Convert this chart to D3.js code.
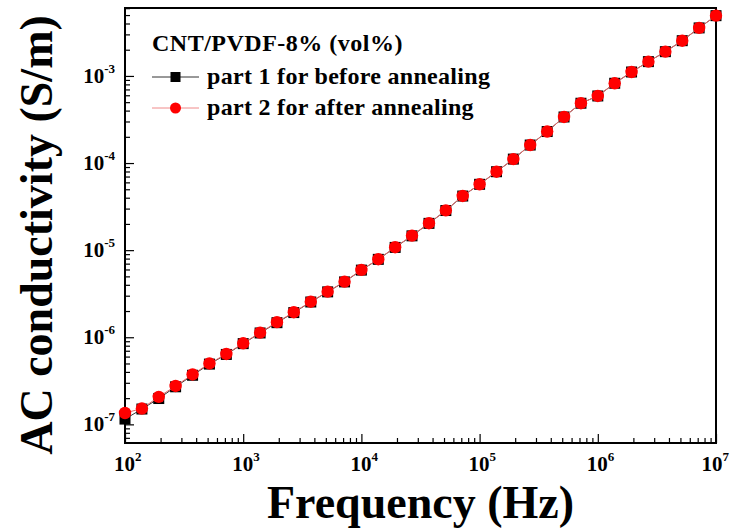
<!DOCTYPE html>
<html>
<head>
<meta charset="utf-8">
<script src="https://cdn.jsdelivr.net/npm/d3@7"></script>
<style>
  body { margin: 0; background: #fff; }
  svg { display: block; font-family: "Liberation Serif", "Times New Roman", serif; font-weight: bold; }
</style>
</head>
<body>
<svg id="chart"></svg>
<script>
// frequency (Hz), 7 points per decade
const freq = [
  1e2, 1.39e2, 1.93e2, 2.68e2, 3.73e2, 5.18e2, 7.2e2,
  1e3, 1.39e3, 1.93e3, 2.68e3, 3.73e3, 5.18e3, 7.2e3,
  1e4, 1.39e4, 1.93e4, 2.68e4, 3.73e4, 5.18e4, 7.2e4,
  1e5, 1.39e5, 1.93e5, 2.68e5, 3.73e5, 5.18e5, 7.2e5,
  1e6, 1.39e6, 1.93e6, 2.68e6, 3.73e6, 5.18e6, 7.2e6,
  1e7
];

// part 1, before annealing (S/m)
const sigmaBefore = [
  1.15e-7, 1.50e-7, 1.98e-7, 2.70e-7, 3.66e-7, 4.92e-7, 6.35e-7,
  8.45e-7, 1.12e-6, 1.47e-6, 1.92e-6, 2.54e-6, 3.32e-6, 4.32e-6,
  5.90e-6, 7.84e-6, 1.075e-5, 1.46e-5, 2.03e-5, 2.85e-5, 4.18e-5,
  5.70e-5, 7.95e-5, 1.11e-4, 1.61e-4, 2.30e-4, 3.38e-4, 4.86e-4,
  5.89e-4, 8.24e-4, 1.11e-3, 1.46e-3, 1.90e-3, 2.54e-3, 3.56e-3,
  4.92e-3
];

// part 2, after annealing (S/m)
const sigmaAfter = [
  1.35e-7, 1.52e-7, 2.07e-7, 2.76e-7, 3.74e-7, 5.00e-7, 6.43e-7,
  8.53e-7, 1.13e-6, 1.49e-6, 1.94e-6, 2.56e-6, 3.34e-6, 4.35e-6,
  5.93e-6, 7.87e-6, 1.08e-5, 1.47e-5, 2.04e-5, 2.86e-5, 4.19e-5,
  5.71e-5, 7.96e-5, 1.11e-4, 1.61e-4, 2.30e-4, 3.38e-4, 4.86e-4,
  5.89e-4, 8.24e-4, 1.11e-3, 1.46e-3, 1.90e-3, 2.54e-3, 3.56e-3,
  4.92e-3
];

const xMajor = [1e2, 1e3, 1e4, 1e5, 1e6, 1e7];
const yMajor = [1e-7, 1e-6, 1e-5, 1e-4, 1e-3];
const legendTitle = "CNT/PVDF-8% (vol%)";
const seriesNames = ["part 1 for before annealing", "part 2 for after annealing"];

const width = 730, height = 531;
const margin = { top: 8, right: 14, bottom: 88, left: 125 };
const innerW = width - margin.left - margin.right;
const innerH = height - margin.top - margin.bottom;

const svg = d3.select("#chart").attr("width", width).attr("height", height);
svg.append("rect").attr("width", width).attr("height", height).attr("fill", "#fff");

const chartArea = svg.append("g")
  .attr("transform", `translate(${margin.left},${margin.top})`);

const xScale = d3.scaleLog().domain([1e2, 1e7]).range([0, innerW]);
const yScale = d3.scaleLog().domain([Math.pow(10, -7.214), Math.pow(10, -2.22)]).range([innerH, 0]);

// minor ticks 2..9 of every decade inside the domain
function minorTicks(scale) {
  const [a, b] = scale.domain();
  return scale.ticks(50).filter(v => v >= a && v <= b && Math.abs(Math.log10(v) % 1) > 1e-6);
}

// x axis (ticks pointing inward)
chartArea.append("g")
  .attr("transform", `translate(0,${innerH})`)
  .call(d3.axisBottom(xScale).tickValues(minorTicks(xScale)).tickSize(-5).tickFormat(""))
  .call(g => g.select(".domain").remove());

chartArea.append("g")
  .attr("transform", `translate(0,${innerH})`)
  .call(d3.axisBottom(xScale).tickValues(xMajor).tickSize(-9).tickFormat(""))
  .call(g => g.select(".domain").remove());

// y axis
chartArea.append("g")
  .call(d3.axisLeft(yScale).tickValues(minorTicks(yScale)).tickSize(-5).tickFormat(""))
  .call(g => g.select(".domain").remove());

chartArea.append("g")
  .call(d3.axisLeft(yScale).tickValues(yMajor).tickSize(-9).tickFormat(""))
  .call(g => g.select(".domain").remove());

chartArea.selectAll(".tick line").attr("stroke", "#000").attr("stroke-width", 1.2);

// tick labels as 10 with superscript
xMajor.forEach((v, i) => {
  const last = i === xMajor.length - 1;
  const t = chartArea.append("text")
    .attr("x", last ? innerW + 13 : xScale(v) - 11)
    .attr("y", innerH + 28)
    .attr("font-size", 21)
    .attr("text-anchor", last ? "end" : "start")
    .attr("fill", "#000");
  t.append("tspan").text("10");
  t.append("tspan").attr("dy", -10).attr("font-size", 13).text(Math.round(Math.log10(v)));
});

yMajor.forEach(v => {
  const t = chartArea.append("text")
    .attr("x", -10)
    .attr("y", yScale(v) + 7)
    .attr("font-size", 21)
    .attr("text-anchor", "end")
    .attr("fill", "#000");
  t.append("tspan").text("10");
  t.append("tspan").attr("dy", -10).attr("font-size", 13).text(Math.round(Math.log10(v)));
});

// frame
chartArea.append("rect")
  .attr("width", innerW).attr("height", innerH)
  .attr("fill", "none").attr("stroke", "#000").attr("stroke-width", 2);

// axis titles
chartArea.append("text")
  .attr("x", innerW / 2)
  .attr("y", innerH + 75)
  .attr("text-anchor", "middle")
  .attr("font-size", 46)
  .text("Frequency (Hz)");

chartArea.append("text")
  .attr("transform", "rotate(-90)")
  .attr("x", -227)
  .attr("y", -73)
  .attr("text-anchor", "middle")
  .attr("font-size", 46)
  .text("AC conductivity (S/m)");

// series
const before = freq.map((f, i) => [f, sigmaBefore[i]]);
const after = freq.map((f, i) => [f, sigmaAfter[i]]);
const line = d3.line().x(d => xScale(d[0])).y(d => yScale(d[1]));

const plot = chartArea.append("g");

plot.append("path").datum(before)
  .attr("d", line).attr("fill", "none").attr("stroke", "#333").attr("stroke-width", 1);
plot.selectAll(".sq").data(before).join("rect")
  .attr("class", "sq")
  .attr("x", d => xScale(d[0]) - 5.5).attr("y", d => yScale(d[1]) - 5.5)
  .attr("width", 11).attr("height", 11).attr("fill", "#000");

plot.append("path").datum(after)
  .attr("d", line).attr("fill", "none").attr("stroke", "#e86a6a").attr("stroke-width", 1);
plot.selectAll(".dot").data(after).join("circle")
  .attr("class", "dot")
  .attr("cx", d => xScale(d[0])).attr("cy", d => yScale(d[1]))
  .attr("r", 6.2).attr("fill", "#ff0000");

// legend
const legend = svg.append("g");
legend.append("text")
  .attr("x", 152).attr("y", 51)
  .attr("font-size", 24).attr("letter-spacing", 0.5)
  .text(legendTitle);

const rows = [
  { y: 77, stroke: "#333", name: seriesNames[0], shape: "square" },
  { y: 108, stroke: "#f08a8a", name: seriesNames[1], shape: "circle" }
];
rows.forEach(r => {
  legend.append("line")
    .attr("x1", 152).attr("x2", 199).attr("y1", r.y).attr("y2", r.y)
    .attr("stroke", r.stroke).attr("stroke-width", 1);
  if (r.shape === "square") {
    legend.append("rect").attr("x", 170.5).attr("y", r.y - 5).attr("width", 10).attr("height", 10).attr("fill", "#000");
  } else {
    legend.append("circle").attr("cx", 175.5).attr("cy", r.y).attr("r", 5.5).attr("fill", "#ff0000");
  }
  legend.append("text")
    .attr("x", 207).attr("y", r.y + 7)
    .attr("font-size", 24).attr("letter-spacing", 0.3)
    .text(r.name);
});
</script>
</body>
</html>
